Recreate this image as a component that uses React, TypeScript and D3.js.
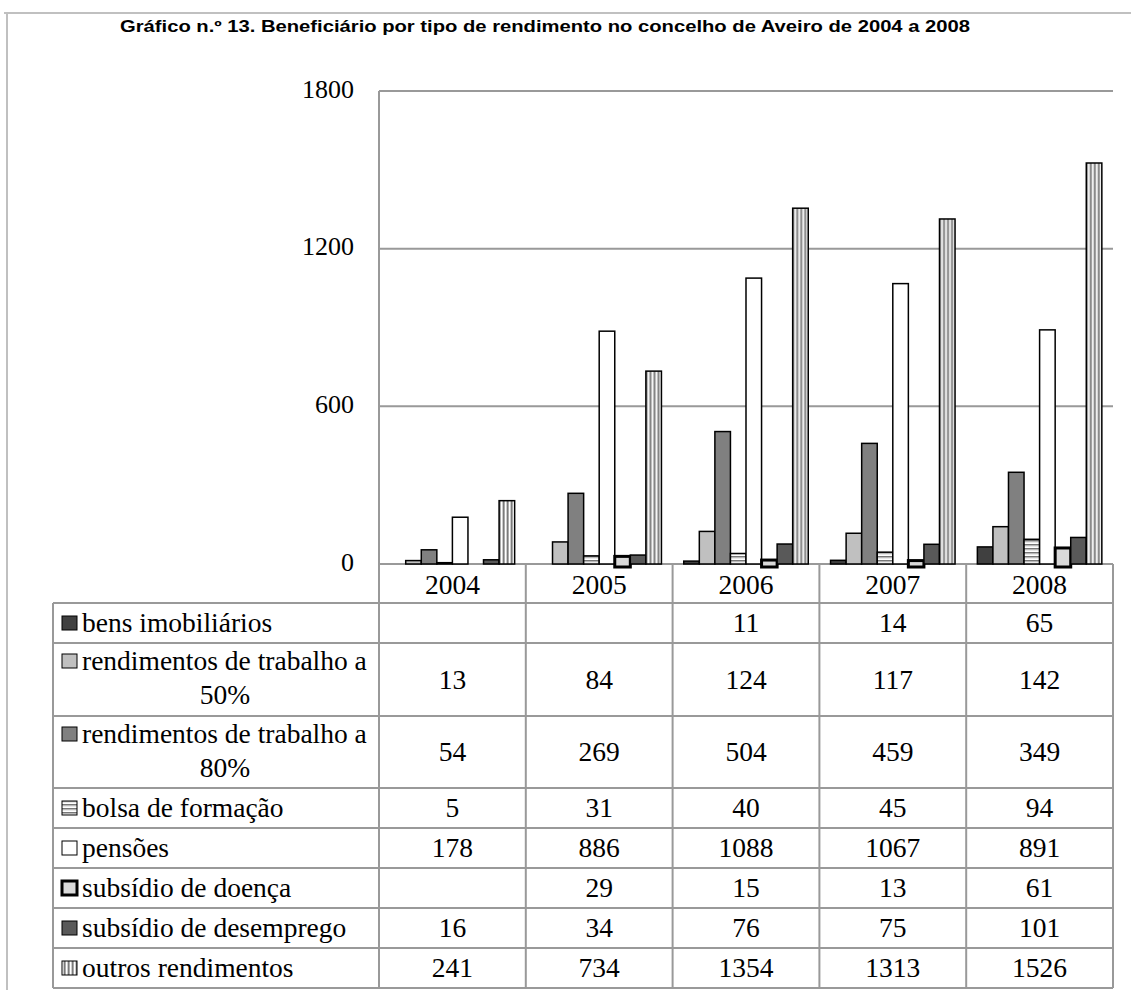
import React from "react";
import * as d3 from "d3";

const years = ["2004", "2005", "2006", "2007", "2008"];
const seriesNames = [
  "bens imobiliários",
  "rendimentos de trabalho a|50%",
  "rendimentos de trabalho a|80%",
  "bolsa de formação",
  "pensões",
  "subsídio de doença",
  "subsídio de desemprego",
  "outros rendimentos",
];
const bens = [null, null, 11, 14, 65];
const rend50 = [13, 84, 124, 117, 142];
const rend80 = [54, 269, 504, 459, 349];
const bolsa = [5, 31, 40, 45, 94];
const pensoes = [178, 886, 1088, 1067, 891];
const doenca = [null, 29, 15, 13, 61];
const desemprego = [16, 34, 76, 75, 101];
const outros = [241, 734, 1354, 1313, 1526];
const yTicks = [0, 600, 1200, 1800];

const seriesValues: (number | null)[][] = [bens, rend50, rend80, bolsa, pensoes, doenca, desemprego, outros];
const fills = ["#404040", "#c0c0c0", "#808080", "url(#pBolsa)", "#ffffff", "#d9d9d9", "#595959", "url(#pOutros)"];
const strokeW = [1.5, 1.5, 1.5, 1.5, 1.5, 3, 1.5, 1.5];
const rowHeights = [40, 73, 72, 40, 40, 40, 40, 40];

const W = 1131, H = 995;
const plotL = 379, plotR = 1113, plotT = 91, plotB = 564;
const tableTop = 603, labelL = 53;
const serif = '"Liberation Serif", "Times New Roman", "DejaVu Serif", serif';
const sans = '"Liberation Sans", Arial, sans-serif';
const FS = 26;
const TFS = 27.5;

export default function App() {
  const x0 = d3.scaleBand<string>().domain(years).range([plotL, plotR]).padding(0);
  const bw = x0.bandwidth();
  const x1 = d3.scaleBand<number>().domain(d3.range(seriesValues.length)).range([bw * 0.076, bw * 0.924]).padding(0);
  const y = d3.scaleLinear().domain([0, 1800]).range([plotB, plotT]);

  const rowTops: number[] = [];
  let acc = tableTop;
  rowHeights.forEach((h) => { rowTops.push(acc); acc += h; });
  const tableBottom = acc;
  const gridColor = "#999999";

  return (
    <svg width={W} height={H} style={{ position: "absolute", left: 0, top: 0, background: "#fff" }}>
      <defs>
        <pattern id="pBolsa" width="4" height="4" patternUnits="userSpaceOnUse">
          <rect width="4" height="4" fill="#ffffff" />
          <rect y="0" width="4" height="1.6" fill="#777777" />
          <rect y="1.6" width="4" height="0.8" fill="#c8c8c8" />
        </pattern>
        <pattern id="pOutros" width="4" height="4" patternUnits="userSpaceOnUse">
          <rect width="4" height="4" fill="#c0c0c0" />
          <rect x="0" width="1.3" height="4" fill="#7a7a7a" />
          <rect x="2" width="1.2" height="4" fill="#ffffff" />
        </pattern>
      </defs>
      <rect x={0} y={0} width={W} height={H} fill="#fff" />
      {/* outer frame */}
      <line x1={4} x2={W} y1={13} y2={13} stroke="#c0c0c0" strokeWidth={2} />
      <line x1={7} x2={7} y1={13} y2={990} stroke="#c0c0c0" strokeWidth={2} />

      <text x={545} y={32} textAnchor="middle" style={{ fontFamily: sans, fontWeight: "bold", fontSize: 16 }}
        textLength={850} lengthAdjust="spacingAndGlyphs">
        Gráfico n.º 13. Beneficiário por tipo de rendimento no concelho de Aveiro de 2004 a 2008
      </text>

      {/* gridlines */}
      {yTicks.map((t) => (
        <g key={t}>
          <line x1={plotL} x2={plotR} y1={y(t)} y2={y(t)} stroke={gridColor} strokeWidth={2} />
          <text x={354} y={y(t) - 2} dy="0.33em" textAnchor="end" style={{ fontFamily: serif, fontSize: FS }}>{t}</text>
        </g>
      ))}
      <line x1={plotL} x2={plotL} y1={plotT} y2={tableBottom} stroke={gridColor} strokeWidth={2} />

      {/* bars */}
      {years.map((yr, yi) => (
        <g key={yr} transform={`translate(${x0(yr)},0)`}>
          {seriesValues.map((vals, si) => {
            const v = vals[yi];
            if (v == null) return null;
            const top = y(v);
            const bottom = si === 5 ? y(0) + 3 : y(0);
            return (
              <rect key={si} x={x1(si)} y={top} width={x1.bandwidth()} height={bottom - top}
                fill={fills[si]} stroke="#000" strokeWidth={strokeW[si]} />
            );
          })}
        </g>
      ))}

      {/* table */}
      <g style={{ fontFamily: serif, fontSize: TFS }}>
        {years.map((yr) => (
          <text key={yr} x={x0(yr)! + bw / 2} y={(plotB + tableTop) / 2 + 1} dy="0.34em" textAnchor="middle">{yr}</text>
        ))}
        {seriesNames.map((name, si) => {
          const top = rowTops[si];
          const h = rowHeights[si];
          const parts = name.split("|");
          const cy = top + h / 2;
          const firstCy = parts.length > 1 ? top + 18 : cy;
          return (
            <g key={name}>
              <rect x={62} y={firstCy - 7} width={15} height={14} fill={fills[si]} stroke="#000"
                strokeWidth={si === 5 ? 3 : 1} />
              <text x={82} y={firstCy} dy="0.33em">{parts[0]}</text>
              {parts.length > 1 && (
                <text x={225} y={top + 52} dy="0.33em" textAnchor="middle">{parts[1]}</text>
              )}
              {years.map((yr, yi) => {
                const v = seriesValues[si][yi];
                return v == null ? null : (
                  <text key={yr} x={x0(yr)! + bw / 2} y={cy} dy="0.33em" textAnchor="middle">{v}</text>
                );
              })}
            </g>
          );
        })}
      </g>
      {/* table lines */}
      <g stroke={gridColor} strokeWidth={2}>
        {rowTops.map((t) => (
          <line key={t} x1={labelL} x2={plotR} y1={t} y2={t} />
        ))}
        <line x1={labelL} x2={plotR} y1={tableBottom} y2={tableBottom} />
        <line x1={labelL} x2={labelL} y1={tableTop} y2={tableBottom} />
        {years.map((yr) => (
          <line key={yr} x1={x0(yr)! + bw} x2={x0(yr)! + bw} y1={plotB} y2={tableBottom} />
        ))}
      </g>
    </svg>
  );
}
